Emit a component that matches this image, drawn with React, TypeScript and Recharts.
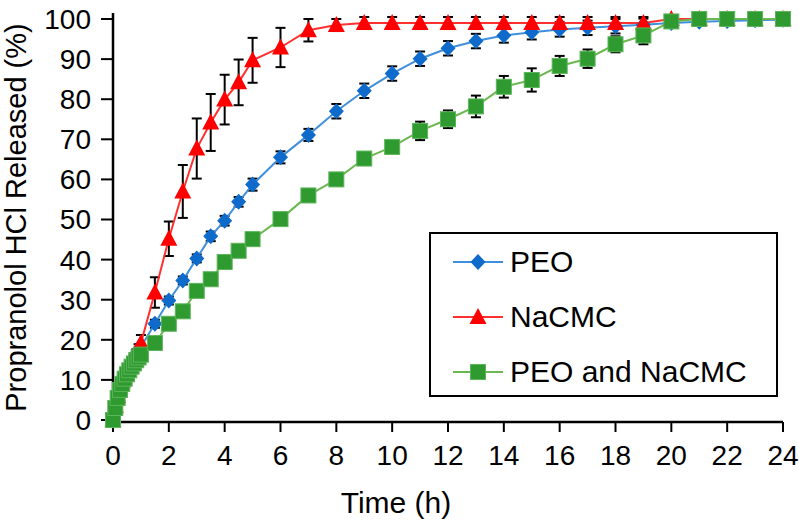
import { LineChart, Line, XAxis, YAxis, ErrorBar, Legend } from 'recharts';

// sampling times (h)
const TIME = [
  0, 0.083, 0.167, 0.25, 0.333, 0.417, 0.5, 0.583, 0.667, 0.75, 0.833, 0.917, 1,
  1.5, 2, 2.5, 3, 3.5, 4, 4.5, 5, 6, 7, 8, 9, 10, 11, 12, 13, 14, 15, 16, 17, 18, 19, 20, 21, 22, 23, 24,
];

const PEO = [
  0, 3.5, 6, 8, 9.5, 11, 12.3, 13.5, 14.6, 15.6, 16.5, 17.4, 18.2,
  24, 29.8, 34.8, 40.3, 45.8, 49.7, 54.4, 58.7, 65.5, 71.1, 77, 82.1, 86.4, 90.1, 92.7, 94.5, 95.9, 96.7, 97.4, 97.8, 98.2, 98.6, 99, 99.3, 99.5, 99.7, 99.8,
];
const PEO_ERR = [
  0.5, 0.5, 0.5, 0.5, 0.5, 0.5, 0.5, 0.5, 0.5, 0.5, 0.5, 0.5, 0.8,
  1, 1, 1, 1, 1.2, 1.2, 1.2, 1.5, 1.5, 1.5, 1.8, 1.8, 1.8, 1.8, 1.8, 1.8, 1.8, 1.8, 1.8, 1.8, 1.8, 1.5, 1, 1, 1, 1, 1,
];

const NACMC = [
  0, 3.5, 6, 8.2, 9.8, 11.3, 12.6, 13.8, 15, 16.1, 17.1, 18.1, 19.2,
  31.8, 45.2, 57, 67.7, 74.2, 79.9, 84.2, 89.7, 92.9, 97.2, 98.5, 99, 99, 99, 99, 99, 99, 99, 99, 99, 99, 99, 100, 100, 100, 100, 100,
];
const NACMC_ERR = [
  0.5, 0.5, 0.5, 0.5, 0.5, 0.5, 0.5, 0.5, 0.5, 0.5, 0.5, 0.8, 2,
  3.8, 4.3, 6.6, 7.5, 7.1, 6.2, 5.7, 5.6, 4.9, 2.8, 1.5, 1.5, 1.5, 1.5, 1.5, 1.5, 1.5, 1.5, 1.5, 1.5, 1.5, 1.5, 1, 1, 1, 1, 1,
];

const MIX = [
  0, 3, 5.5, 7.5, 9, 10.3, 11.4, 12.4, 13.3, 14.1, 14.9, 15.6, 16.3,
  19.2, 24, 27.1, 32.2, 35.1, 39.4, 42.2, 45.1, 50.1, 56, 60, 65.2, 68.1, 72.1, 75, 78.2, 83.1, 84.8, 88.3, 90.1, 93.7, 95.9, 99.4, 100, 100, 100, 100,
];
const MIX_ERR = [
  0.5, 0.5, 0.5, 0.5, 0.5, 0.5, 0.5, 0.5, 0.5, 0.5, 0.5, 0.5, 0.5,
  1, 1, 1, 1, 1, 1, 1, 1, 1, 1, 1, 1, 1, 2.3, 2.2, 2.7, 2.7, 2.9, 2.5, 2.3, 2, 2.2, 1, 1.5, 1.5, 1.5, 1.5,
];

const X_TICKS = [0, 2, 4, 6, 8, 10, 12, 14, 16, 18, 20, 22, 24];
const Y_TICKS = [0, 10, 20, 30, 40, 50, 60, 70, 80, 90, 100];
const LEGEND_ORDER = ['peo', 'nacmc', 'mix'];

const data = TIME.map((t, i) => ({
  t,
  peo: PEO[i],
  peoErr: PEO_ERR[i],
  nacmc: NACMC[i],
  nacmcErr: NACMC_ERR[i],
  mix: MIX[i],
  mixErr: MIX_ERR[i],
}));

const COLORS = {
  peoLine: '#3f8fdc',
  peoDot: '#0e6acb',
  nacmcLine: '#ff3030',
  nacmcDot: '#ff0000',
  mixLine: '#6cb850',
  mixDot: '#2f9a30',
};

function Diamond({ cx, cy }: any) {
  if (cx == null || cy == null) return null;
  return (
    <polygon
      points={`${cx},${cy - 8} ${cx + 7.5},${cy} ${cx},${cy + 8} ${cx - 7.5},${cy}`}
      fill={COLORS.peoDot}
    />
  );
}

function Triangle({ cx, cy }: any) {
  if (cx == null || cy == null) return null;
  return (
    <polygon
      points={`${cx},${cy - 9} ${cx + 8.5},${cy + 7} ${cx - 8.5},${cy + 7}`}
      fill={COLORS.nacmcDot}
    />
  );
}

function Square({ cx, cy }: any) {
  if (cx == null || cy == null) return null;
  return <rect x={cx - 7.5} y={cy - 7.5} width={15} height={15} fill={COLORS.mixDot} stroke="#5cb55a" strokeWidth={1} />;
}

const SHAPES: Record<string, any> = { peo: Diamond, nacmc: Triangle, mix: Square };
const LINE_COLORS: Record<string, string> = { peo: COLORS.peoLine, nacmc: COLORS.nacmcLine, mix: COLORS.mixLine };

function LegendBox({ payload }: any) {
  const items = [...(payload || [])].sort(
    (a: any, b: any) => LEGEND_ORDER.indexOf(a.dataKey) - LEGEND_ORDER.indexOf(b.dataKey),
  );
  return (
    <div
      style={{
        border: '2px solid #000',
        background: '#fff',
        width: 349,
        height: 165,
        boxSizing: 'border-box',
        paddingTop: 0,
        paddingLeft: 20,
      }}
    >
      {items.map((entry: any) => {
        const Shape = SHAPES[entry.dataKey];
        return (
          <div key={entry.dataKey} style={{ display: 'flex', alignItems: 'center', height: 55 }}>
            <svg width={54} height={22} style={{ marginRight: 5 }}>
              <line x1={2} y1={11} x2={52} y2={11} stroke={LINE_COLORS[entry.dataKey]} strokeWidth={2} />
              <Shape cx={27} cy={11} />
            </svg>
            <span style={{ fontSize: 30, color: '#000', lineHeight: '30px' }}>{entry.value}</span>
          </div>
        );
      })}
    </div>
  );
}

export default function App() {
  return (
    <div
      style={{
        position: 'absolute',
        left: 0,
        top: 0,
        width: 799,
        height: 522,
        background: '#fff',
        fontFamily: '"Liberation Sans", Arial, sans-serif',
      }}
    >
      <LineChart width={799} height={522} data={data} margin={{ top: 13, right: 16, bottom: 0, left: 0 }}>
        <XAxis
          dataKey="t"
          type="number"
          domain={[0, 24]}
          ticks={X_TICKS}
          height={100}
          axisLine={{ stroke: '#000', strokeWidth: 2.5 }}
          tickLine={{ stroke: '#000', strokeWidth: 2 }}
          tickSize={10}
          tickMargin={13}
          tick={{ fontSize: 28, fill: '#000' }}
          label={{ value: 'Time (h)', position: 'insideBottom', offset: 9, dx: -52, fontSize: 30, fill: '#000' }}
        />
        <YAxis
          type="number"
          domain={[0, 100]}
          ticks={Y_TICKS}
          width={113}
          axisLine={{ stroke: '#000', strokeWidth: 2.5 }}
          tickLine={{ stroke: '#000', strokeWidth: 2 }}
          tickSize={12}
          tickMargin={10}
          tick={{ fontSize: 28, fill: '#000' }}
          label={{
            value: 'Propranolol HCl Released (%)',
            angle: -90,
            position: 'insideLeft',
            offset: 16,
            fontSize: 29,
            fill: '#000',
            style: { textAnchor: 'middle' },
          }}
        />
        <Legend
          layout="vertical"
          align="center"
          verticalAlign="middle"
          wrapperStyle={{ position: 'absolute', left: 429, top: 232, width: 349 }}
          content={<LegendBox />}
        />
        <Line
          dataKey="peo"
          name="PEO"
          stroke={COLORS.peoLine}
          strokeWidth={2}
          dot={(p: any) => <Diamond key={`peo-${p.index}`} cx={p.cx} cy={p.cy} />}
          activeDot={false}
          isAnimationActive={false}
        >
          <ErrorBar dataKey="peoErr" direction="y" width={5} stroke="#000" strokeWidth={2} />
        </Line>
        <Line
          dataKey="nacmc"
          name="NaCMC"
          stroke={COLORS.nacmcLine}
          strokeWidth={2}
          dot={(p: any) => <Triangle key={`na-${p.index}`} cx={p.cx} cy={p.cy} />}
          activeDot={false}
          isAnimationActive={false}
        >
          <ErrorBar dataKey="nacmcErr" direction="y" width={5} stroke="#000" strokeWidth={2} />
        </Line>
        <Line
          dataKey="mix"
          name="PEO and NaCMC"
          stroke={COLORS.mixLine}
          strokeWidth={2}
          dot={(p: any) => <Square key={`mix-${p.index}`} cx={p.cx} cy={p.cy} />}
          activeDot={false}
          isAnimationActive={false}
        >
          <ErrorBar dataKey="mixErr" direction="y" width={5} stroke="#000" strokeWidth={2} />
        </Line>
      </LineChart>
    </div>
  );
}
